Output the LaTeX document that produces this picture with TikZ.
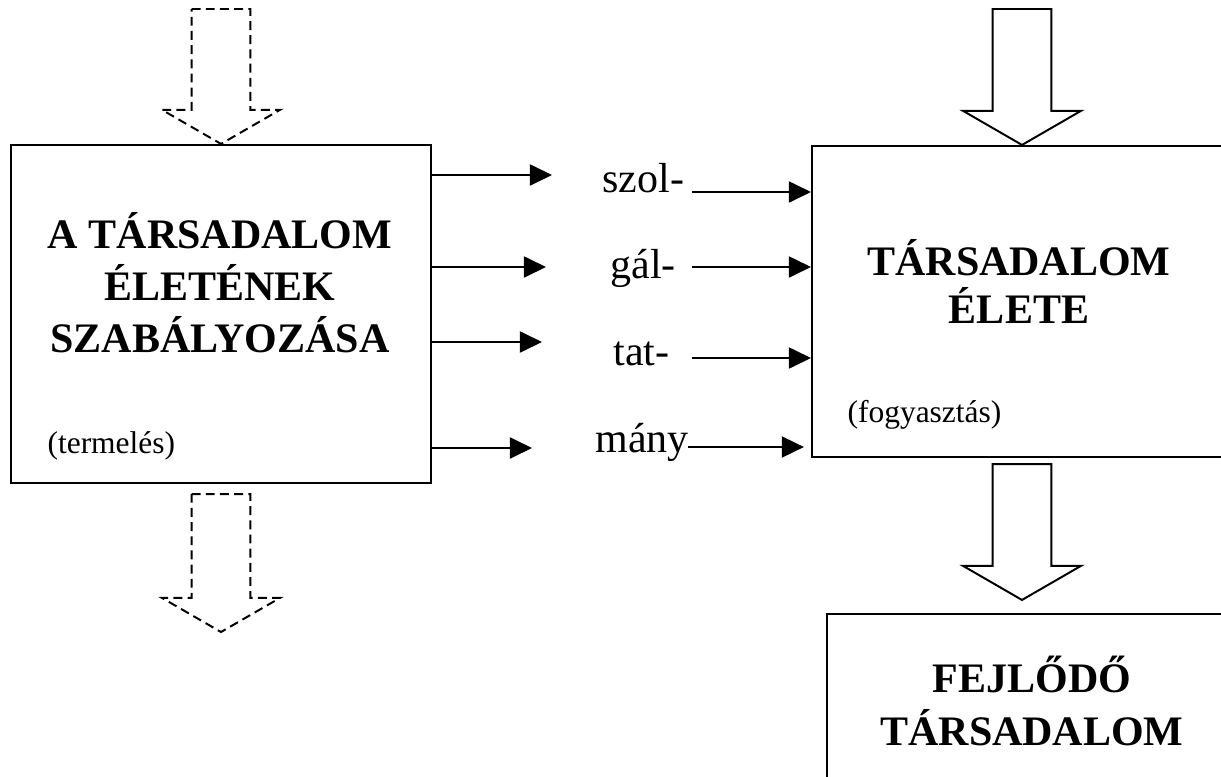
\documentclass[tikz,border=0pt]{standalone}
\usepackage{fontspec}
\setmainfont{Liberation Serif}
\usetikzlibrary{arrows.meta,calc}

\tikzstyle{box}=[draw,line width=0.8pt,inner sep=0pt]
\tikzstyle{title}=[font=\fontsize{16}{19}\selectfont\bfseries,anchor=base,inner sep=0pt]
\tikzstyle{note}=[font=\fontsize{12}{14}\selectfont,anchor=base west,inner sep=0pt]
\tikzstyle{part}=[font=\fontsize{16}{19}\selectfont,anchor=base west,inner sep=0pt]
\tikzstyle{flow}=[draw,line width=0.75pt,-{Triangle[length=8.4pt,width=8pt]}]
\tikzstyle{bigarrow}=[draw,line width=0.75pt,line join=miter]
\tikzstyle{dashedarrow}=[bigarrow,dash pattern=on 3.4pt off 2pt]

% wide hollow arrow: top centre, tip
\newcommand{\blockarrow}[3][bigarrow]{%
  \draw[#1] let \p1=(#2), \p2=(#3) in
    (\x1-11.2pt,\y1) -- (\x1+11.2pt,\y1) -- (\x1+11.2pt,\y2+13pt) -- (\x1+22.5pt,\y2+13pt)
    -- (\x2,\y2) -- (\x1-22.5pt,\y2+13pt) -- (\x1-11.2pt,\y2+13pt) -- cycle;}

\begin{document}
\begin{tikzpicture}[x=0.381pt,y=-0.381pt]
	\useasboundingbox (0,0) rectangle (1221,776);
	\clip (0,0) rectangle (1221,776);

	% boxes
	\node [box,minimum width=160pt,minimum height=128.8pt] (regbox)  at (221,314)   {};
	\node [box,minimum width=160pt,minimum height=118.5pt] (lifebox) at (1022,301.5) {};
	\node [box,minimum width=156.2pt,minimum height=82.3pt] (devbox) at (1032,722)  {};

	\node [title] (reg1) at (220,248) {A TÁRSADALOM};
	\node [title] (reg2) at (220,300) {ÉLETÉNEK};
	\node [title] (reg3) at (220,352) {SZABÁLYOZÁSA};
	\node [note]  (prod) at (47,453)  {(termelés)};

	\node [title] (life1) at (1019,275) {TÁRSADALOM};
	\node [title] (life2) at (1019,323) {ÉLETE};
	\node [note]  (cons)  at (847,422)  {(fogyasztás)};

	\node [title] (dev1) at (1032,692) {FEJLŐDŐ};
	\node [title] (dev2) at (1032,745) {TÁRSADALOM};

	% the split word
	\node [part] (szol) at (602,192) {szol-};
	\node [part] (gal)  at (610,278) {gál-};
	\node [part] (tat)  at (613,365) {tat-};
	\node [part] (many) at (595,452) {mány};

	\coordinate (o1) at (552,175);
	\coordinate (o2) at (546,267);
	\coordinate (o3) at (542,342);
	\coordinate (o4) at (532,448);
	\coordinate (i1) at (692,192);
	\coordinate (i2) at (692,267);
	\coordinate (i3) at (692,358);
	\coordinate (i4) at (688,447);

	\draw[flow] (regbox.east |- o1) -- (o1);
	\draw[flow] (regbox.east |- o2) -- (o2);
	\draw[flow] (regbox.east |- o3) -- (o3);
	\draw[flow] (regbox.east |- o4) -- (o4);
	\draw[flow] (i1) -- (lifebox.west |- i1);
	\draw[flow] (i2) -- (lifebox.west |- i2);
	\draw[flow] (i3) -- (lifebox.west |- i3);
	\draw[flow,shorten >=2.7pt] (i4) -- (lifebox.west |- i4);

	% big arrows
	\blockarrow[dashedarrow]{221,9}{regbox.north}
	\blockarrow[dashedarrow]{$(regbox.south)+(0,10)$}{221,632}
	\blockarrow{1022,9}{lifebox.north}
	\blockarrow{$(lifebox.south)+(0,6)$}{$(devbox.north)+(-10,-13)$}
\end{tikzpicture}
\end{document}
